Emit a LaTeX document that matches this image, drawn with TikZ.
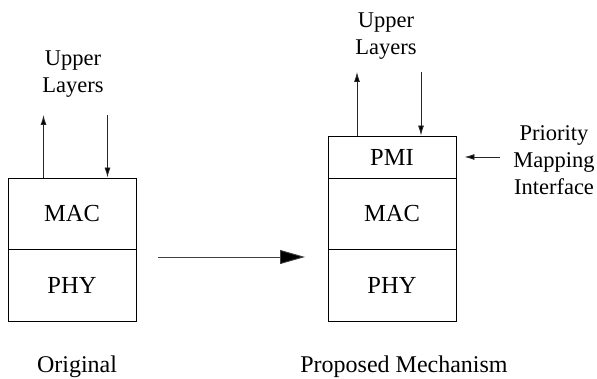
\documentclass[tikz,border=0pt]{standalone}
\usepackage{fontspec}
\setmainfont{Liberation Serif}
\usetikzlibrary{arrows.meta}
\begin{document}
\begin{tikzpicture}[x=1pt,y=-1pt,
  layerbox/.style={draw=black,line width=0.9pt,inner sep=0pt,minimum width=128pt,
    font=\fontsize{24.5}{30}\selectfont},
  lbl/.style={inner sep=0pt,align=center,font=\fontsize{22.5}{27}\selectfont},
  caption/.style={inner sep=0pt,anchor=base,font=\fontsize{24}{29}\selectfont},
  smallarrow/.style={draw=black!85,line width=0.9pt,-{Latex[length=10pt,width=6pt,fill=black]}},
  bigarrow/.style={draw=black!75,line width=0.9pt,-{Triangle[length=25pt,width=14pt,fill=black]}}]
\useasboundingbox (0,0) rectangle (597,379);
% left stack
\node[layerbox,minimum height=71pt] (mac1) at (72,213.5) {MAC};
\node[layerbox,minimum height=72pt] (phy1) at (72,285) {PHY};
% right stack
\node[layerbox,minimum height=42pt] (pmi2) at (392,157) {PMI};
\node[layerbox,minimum height=71pt] (mac2) at (392,213.5) {MAC};
\node[layerbox,minimum height=72pt] (phy2) at (392,285) {PHY};
% upper layers labels
\node[lbl,anchor=north] (ul1) at (73,51) {Upper\\Layers};
\node[lbl,anchor=north] (ul2) at (386,13) {Upper\\Layers};
\node[lbl,anchor=north] (prio) at (554,125) {Priority\\Mapping\\Interface};
% free ends
\coordinate (u1) at (43.5,115);
\coordinate (d1) at (107.5,115);
\coordinate (u2) at (357,72);
\coordinate (d2) at (421,72);
\coordinate (ps) at (500,157);
\coordinate (bs) at (158,257);
\coordinate (be) at (305,257);
% arrows
\draw[smallarrow] (mac1.north -| u1) -- (u1);
\draw[smallarrow] (d1) -- (mac1.north -| d1);
\draw[smallarrow] (pmi2.north -| u2) -- (u2);
\draw[smallarrow] (d2) -- (pmi2.north -| d2);
\draw[smallarrow] (ps) -- ([xshift=8pt]pmi2.east);
\draw[bigarrow] (bs) -- (be);
% captions
\node[caption] (orig) at (77,372) {Original};
\node[caption] (prop) at (404,372) {Proposed Mechanism};
\end{tikzpicture}
\end{document}
